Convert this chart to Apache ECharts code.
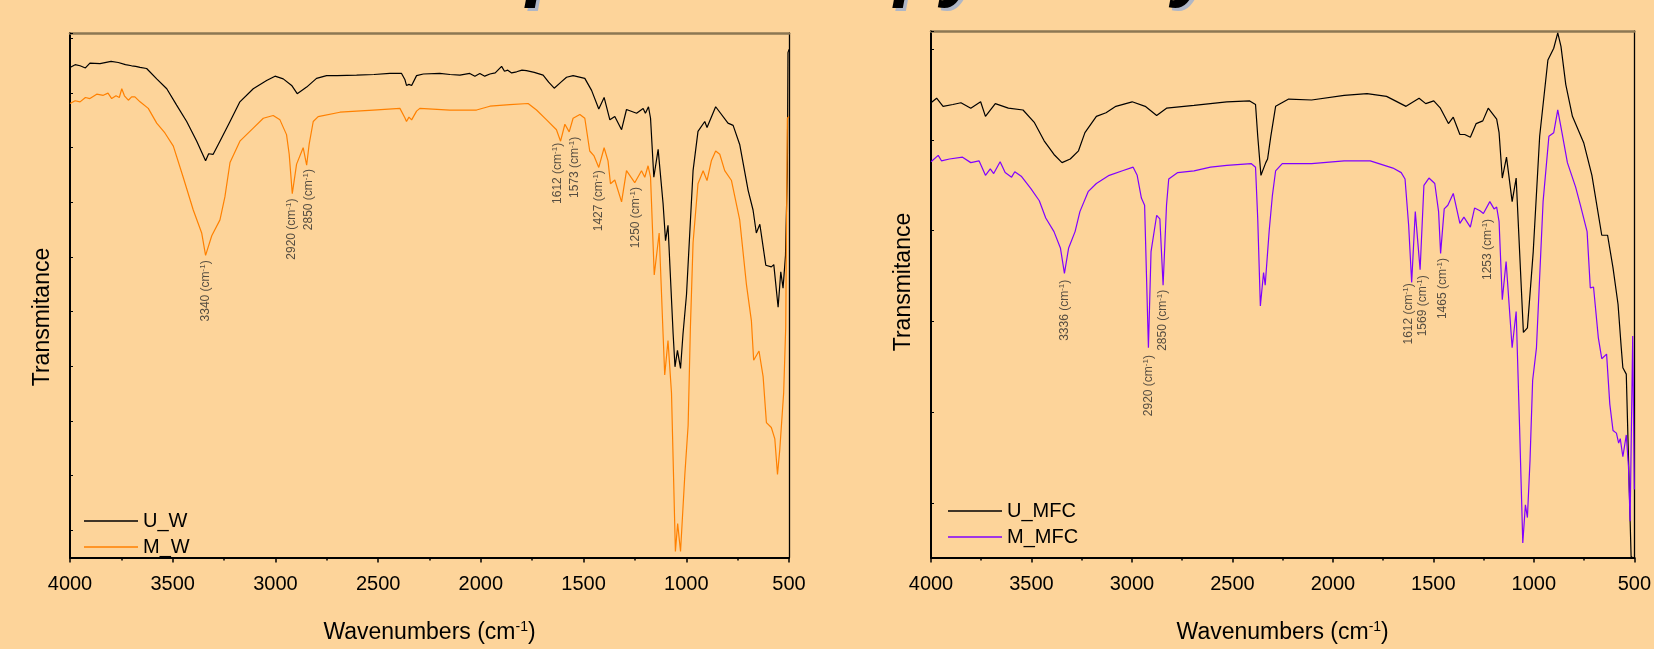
<!DOCTYPE html>
<html>
<head>
<meta charset="utf-8">
<script src="https://cdn.jsdelivr.net/npm/echarts@6/dist/echarts.min.js"></script>
<style>
html,body{margin:0;padding:0;background:#FDD49A;}
#chart{width:1654px;height:649px;}
</style>
</head>
<body>
<div id="chart"></div>
<script>
// ---------- DATA ----------
const WAVENUMBER_RANGE = [500, 4000];
const WAVENUMBER_STEP = 500;
const LEFT_T_RANGE = [-5, 91];
const RIGHT_T_RANGE = [-6, 52];

const U_W = [[4000,84.7],[3975,85.2],[3951,85.0],[3925,84.6],[3903,85.5],[3854,85.4],[3800,85.8],[3765,85.6],[3730,85.2],[3700,85.0],[3680,84.9],[3659,84.7],[3627,84.5],[3578,82.6],[3529,80.8],[3481,77.8],[3432,74.8],[3383,71.2],[3340,67.6],[3325,68.9],[3303,68.8],[3262,71.8],[3221,74.8],[3173,78.4],[3108,80.8],[3043,82.3],[3002,83.1],[2962,82.6],[2921,81.4],[2894,79.9],[2848,81.1],[2800,82.7],[2751,83.2],[2700,83.2],[2605,83.3],[2520,83.4],[2443,83.6],[2386,83.6],[2370,82.5],[2362,81.4],[2350,81.6],[2337,81.4],[2313,83.2],[2280,83.5],[2200,83.6],[2150,83.4],[2102,83.3],[2054,83.6],[2029,83.1],[2005,83.6],[1981,83.1],[1956,83.5],[1930,83.7],[1899,84.9],[1885,84.0],[1869,84.2],[1850,83.7],[1826,83.9],[1800,84.2],[1778,84.1],[1740,83.8],[1697,83.3],[1670,82.0],[1643,80.9],[1610,82.0],[1583,82.9],[1551,83.2],[1494,82.7],[1461,80.5],[1426,77.1],[1400,79.2],[1372,75.1],[1348,75.7],[1315,73.3],[1291,77.0],[1242,76.3],[1210,77.2],[1199,76.3],[1184,77.5],[1174,75.4],[1158,64.6],[1137,69.7],[1113,59.8],[1101,53.0],[1089,55.8],[1064,35.9],[1055,29.9],[1043,32.9],[1028,29.6],[1016,35.9],[999,43.1],[967,65.8],[943,73.0],[910,74.8],[899,73.7],[857,77.5],[797,74.5],[772,74.1],[740,70.6],[699,62.2],[675,58.6],[659,54.4],[642,56.0],[613,48.5],[586,48.2],[574,48.6],[553,40.8],[540,47.3],[529,44.3],[517,50.3],[508,65.9],[505,87.4],[500,88.0]];

const M_W = [[4000,78.1],[3975,78.6],[3951,78.4],[3925,79.2],[3903,79.0],[3870,79.8],[3838,79.6],[3815,80.0],[3797,79.0],[3776,79.5],[3760,79.2],[3748,80.8],[3735,79.5],[3716,78.7],[3700,79.3],[3684,79.3],[3659,78.4],[3619,77.2],[3578,74.5],[3538,72.7],[3497,70.3],[3449,64.6],[3400,58.6],[3359,54.4],[3340,50.3],[3310,53.9],[3270,56.8],[3246,61.0],[3221,67.3],[3173,71.2],[3108,73.6],[3059,75.4],[3011,75.9],[2978,75.1],[2946,72.4],[2933,68.8],[2918,61.6],[2897,67.0],[2865,70.0],[2848,66.8],[2836,70.6],[2816,74.8],[2792,75.7],[2686,76.5],[2524,76.9],[2394,77.2],[2370,75.5],[2362,74.8],[2350,75.6],[2337,75.1],[2313,76.7],[2297,77.2],[2151,76.9],[2021,76.9],[1956,77.6],[1859,77.9],[1770,78.1],[1729,76.9],[1680,75.1],[1632,73.3],[1612,71.2],[1591,74.3],[1570,72.9],[1551,75.4],[1518,76.1],[1494,75.4],[1470,69.4],[1449,68.5],[1426,66.4],[1400,70.0],[1381,67.6],[1369,63.4],[1348,64.1],[1315,60.1],[1291,65.8],[1251,63.6],[1218,65.8],[1202,64.6],[1186,66.7],[1174,64.6],[1156,46.7],[1132,54.4],[1113,35.9],[1105,28.4],[1089,34.7],[1072,25.1],[1053,-3.9],[1042,1.2],[1028,-3.9],[1007,10.2],[991,19.2],[980,37.1],[967,52.6],[943,63.4],[918,65.8],[899,64.0],[878,67.6],[857,69.4],[837,68.8],[813,65.8],[780,64.0],[740,56.8],[707,44.9],[683,38.3],[672,31.1],[646,32.8],[626,28.1],[610,19.7],[586,18.8],[569,16.7],[556,10.2],[545,14.7],[537,15.0],[526,25.1],[516,37.1],[508,75.4],[500,75.7]];

const U_MFC = [[4000,44.1],[3972,44.6],[3940,43.7],[3891,43.9],[3851,44.1],[3802,43.5],[3753,44.2],[3729,42.6],[3680,44.0],[3615,43.5],[3542,43.3],[3485,41.9],[3437,39.9],[3388,38.4],[3348,37.5],[3307,37.9],[3266,38.8],[3234,40.8],[3177,42.6],[3129,43.0],[3080,43.7],[2999,44.2],[2934,43.7],[2877,42.7],[2828,43.5],[2691,43.8],[2528,44.2],[2414,44.3],[2385,43.9],[2374,40.4],[2358,36.1],[2350,36.3],[2334,37.5],[2325,37.9],[2309,40.4],[2285,43.7],[2220,44.5],[2106,44.4],[1944,44.9],[1830,45.1],[1733,44.8],[1636,43.7],[1571,44.6],[1538,44.0],[1498,44.3],[1465,43.5],[1425,41.8],[1401,42.5],[1368,40.6],[1344,40.6],[1316,40.3],[1287,41.8],[1254,42.1],[1227,43.5],[1185,42.3],[1173,40.8],[1157,35.8],[1136,38.1],[1108,33.2],[1088,35.8],[1052,18.8],[1032,19.3],[1003,27.7],[971,40.4],[930,48.8],[901,50.1],[881,51.8],[865,50.3],[841,46.1],[808,42.6],[752,39.7],[711,36.1],[662,29.5],[633,29.5],[606,25.9],[581,21.9],[565,17.1],[557,14.9],[540,14.2],[521,-1.8],[516,-5.9],[510,-6.0]];

const M_MFC = [[4000,37.6],[3964,38.3],[3948,37.7],[3908,37.9],[3843,38.1],[3802,37.5],[3761,37.7],[3729,36.1],[3705,36.8],[3688,36.3],[3656,37.6],[3631,36.4],[3599,35.9],[3583,36.5],[3551,36.0],[3502,34.6],[3461,33.3],[3429,31.4],[3388,29.9],[3356,28.1],[3336,25.3],[3315,28.1],[3283,29.9],[3259,32.1],[3218,34.3],[3177,35.2],[3113,36.1],[3047,36.6],[2994,37.0],[2974,36.1],[2953,33.6],[2937,32.8],[2918,17.1],[2905,27.7],[2877,31.7],[2861,31.3],[2845,24.0],[2828,32.8],[2817,35.7],[2772,36.4],[2691,36.6],[2609,37.0],[2528,37.2],[2407,37.4],[2385,37.0],[2374,31.3],[2361,21.7],[2345,25.4],[2337,24.0],[2317,30.0],[2301,33.9],[2285,36.6],[2252,37.4],[2106,37.4],[1944,37.7],[1814,37.7],[1701,36.9],[1660,36.4],[1641,35.7],[1623,30.6],[1608,24.3],[1590,32.1],[1566,25.7],[1547,35.0],[1522,35.8],[1493,35.2],[1474,32.1],[1464,27.5],[1446,32.4],[1428,32.8],[1401,34.1],[1368,30.8],[1348,31.5],[1316,30.4],[1295,32.5],[1268,32.2],[1251,31.9],[1219,33.2],[1198,32.4],[1185,32.6],[1173,31.0],[1157,22.4],[1138,26.6],[1108,17.1],[1088,21.1],[1071,8.4],[1055,-4.4],[1042,-0.2],[1032,-1.6],[1019,4.7],[1006,13.5],[987,17.1],[954,33.2],[925,40.4],[901,40.8],[881,43.3],[860,40.8],[833,37.5],[792,34.8],[768,32.8],[735,29.9],[719,23.7],[703,23.8],[679,18.2],[662,15.9],[638,16.4],[622,10.9],[606,8.0],[589,7.7],[578,6.6],[570,7.1],[557,5.1],[540,7.5],[529,4.0],[521,-2.0],[508,18.4],[500,1.5]];

const LEFT_PEAK_LABELS = ['3340','2920','2850','1612','1573','1427','1250'];
const LEFT_PEAK_ANCHORS = [[3340,49.4],[2920,60.7],[2840,66.1],[1624,70.9],[1543,72.0],[1426,65.9],[1247,62.8]];
const RIGHT_PEAK_LABELS = ['3336','2920','2850','1612','1569','1465','1253'];
const RIGHT_PEAK_ANCHORS = [[3336,24.6],[2916,16.3],[2845,23.5],[1624,24.2],[1555,25.1],[1454,27.0],[1230,31.3]];

const LEFT_NAMES = ['U_W','M_W'];
const RIGHT_NAMES = ['U_MFC','M_MFC'];
const TITLE = 'FTIR Spectroscopy Analysis';
const Y_TITLE = 'Transmitance';
const X_TITLE = 'Wavenumbers (cm{s|-1})';

// ---------- STYLE ----------
const FONT = '"Liberation Sans", Arial, sans-serif';
const BG = '#FDD49A';
const C_BLACK = '#000000';
const C_ORANGE = '#FF8000';
const C_VIOLET = '#8000FF';

const chart = echarts.init(document.getElementById('chart'), null, {renderer: 'canvas'});

function bottomX(gi) {
  return {
    gridIndex: gi, type: 'value', position: 'bottom',
    min: WAVENUMBER_RANGE[0], max: WAVENUMBER_RANGE[1], interval: WAVENUMBER_STEP, inverse: true,
    axisLine: {show: true, onZero: false, lineStyle: {color: '#000', width: 2}},
    axisTick: {show: true, inside: false, length: 5, lineStyle: {color: '#000', width: 1.5}},
    minorTick: {show: true, splitNumber: 2, length: 3, lineStyle: {color: '#000', width: 1.5}},
    axisLabel: {show: true, fontSize: 20, color: '#000', fontFamily: FONT, margin: 17,
      formatter: v => String(v)},
    splitLine: {show: false},
    name: X_TITLE, nameLocation: 'middle', nameGap: 63,
    nameTextStyle: {fontSize: 23, color: '#000', fontFamily: FONT,
      rich: {s: {fontSize: 14, color: '#000', fontFamily: FONT, verticalAlign: 'top', padding: [0,0,10,0]}}}
  };
}
function topX(gi) {
  return {
    gridIndex: gi, type: 'value', position: 'top',
    min: WAVENUMBER_RANGE[0], max: WAVENUMBER_RANGE[1], inverse: true,
    axisLine: {show: true, onZero: false, lineStyle: {color: '#8C7753', width: 2.5}},
    axisTick: {show: false}, axisLabel: {show: false}, splitLine: {show: false}
  };
}
function leftY(gi, range, split) {
  return {
    gridIndex: gi, type: 'value', position: 'left', min: range[0], max: range[1], splitNumber: split,
    axisLine: {show: true, onZero: false, lineStyle: {color: '#000', width: 2}},
    axisTick: {show: true, inside: true, length: 3, lineStyle: {color: '#000', width: 1}},
    axisLabel: {show: false}, splitLine: {show: false}
  };
}
function rightY(gi, range) {
  return {
    gridIndex: gi, type: 'value', position: 'right', min: range[0], max: range[1],
    axisLine: {show: true, onZero: false, lineStyle: {color: '#000', width: 1.3}},
    axisTick: {show: false}, axisLabel: {show: false}, splitLine: {show: false}
  };
}
function lineSeries(name, data, color, xi, yi) {
  return {
    type: 'line', name: name, data: data, xAxisIndex: xi, yAxisIndex: yi,
    symbol: 'none', showSymbol: false, smooth: false, silent: true,
    lineStyle: {color: color, width: 1.2}, itemStyle: {color: color},
    emphasis: {disabled: true}, z: 3
  };
}
function peakSeries(labels, anchors, xi, yi) {
  return {
    type: 'scatter', data: anchors, xAxisIndex: xi, yAxisIndex: yi,
    symbol: 'circle', symbolSize: 1, silent: true,
    itemStyle: {color: 'rgba(0,0,0,0)'},
    emphasis: {disabled: true},
    label: {
      show: true, position: 'inside', rotate: 90, align: 'right', verticalAlign: 'middle',
      fontSize: 12, color: '#2b2b2b', fontFamily: FONT,
      formatter: p => labels[p.dataIndex] + ' (cm{s|-1})',
      rich: {s: {fontSize: 8, color: '#2b2b2b', fontFamily: FONT, verticalAlign: 'top', padding: [0,0,6,0]}}
    },
    z: 5
  };
}
function legendFor(names, left, top) {
  return {
    data: names.map(n => ({name: n, icon: 'rect'})), orient: 'vertical', left: left, top: top,
    padding: 0, itemWidth: 54, itemHeight: 1.5, itemGap: 6,
    textStyle: {fontSize: 20, color: '#000', fontFamily: FONT},
    selectedMode: false
  };
}

const option = {
  backgroundColor: BG,
  animation: false,
  grid: [
    {left: 70, top: 33, width: 719, height: 535, containLabel: false},
    {left: 931, top: 31, width: 719, height: 530, containLabel: false}
  ],
  xAxis: [bottomX(0), topX(0), bottomX(1), topX(1)],
  yAxis: [leftY(0, LEFT_T_RANGE, 10), rightY(0, LEFT_T_RANGE), leftY(1, RIGHT_T_RANGE, 6), rightY(1, RIGHT_T_RANGE)],
  legend: [legendFor(LEFT_NAMES, 84, 511), legendFor(RIGHT_NAMES, 948, 501)],
  series: [
    lineSeries(LEFT_NAMES[0], U_W, C_BLACK, 0, 0),
    lineSeries(LEFT_NAMES[1], M_W, C_ORANGE, 0, 0),
    lineSeries(RIGHT_NAMES[0], U_MFC, C_BLACK, 2, 2),
    lineSeries(RIGHT_NAMES[1], M_MFC, C_VIOLET, 2, 2),
    peakSeries(LEFT_PEAK_LABELS, LEFT_PEAK_ANCHORS, 0, 0),
    peakSeries(RIGHT_PEAK_LABELS, RIGHT_PEAK_ANCHORS, 2, 2)
  ],
  graphic: [
    {type: 'text', x: 805, y: -26, z: 1, silent: true,
      style: {text: TITLE, fill: '#AEB6C6', font: 'italic bold 77px ' + FONT, align: 'center', verticalAlign: 'middle'}},
    {type: 'text', x: 802, y: -29, z: 2, silent: true,
      style: {text: TITLE, fill: '#000', font: 'italic bold 77px ' + FONT, align: 'center', verticalAlign: 'middle'}},
    {type: 'text', x: 42.5, y: 317, rotation: Math.PI / 2, silent: true,
      style: {text: Y_TITLE, fill: '#000', font: '23px ' + FONT, align: 'center', verticalAlign: 'middle'}},
    {type: 'text', x: 904, y: 282, rotation: Math.PI / 2, silent: true,
      style: {text: Y_TITLE, fill: '#000', font: '23px ' + FONT, align: 'center', verticalAlign: 'middle'}}
  ]
};
chart.setOption(option);
</script>
</body>
</html>
